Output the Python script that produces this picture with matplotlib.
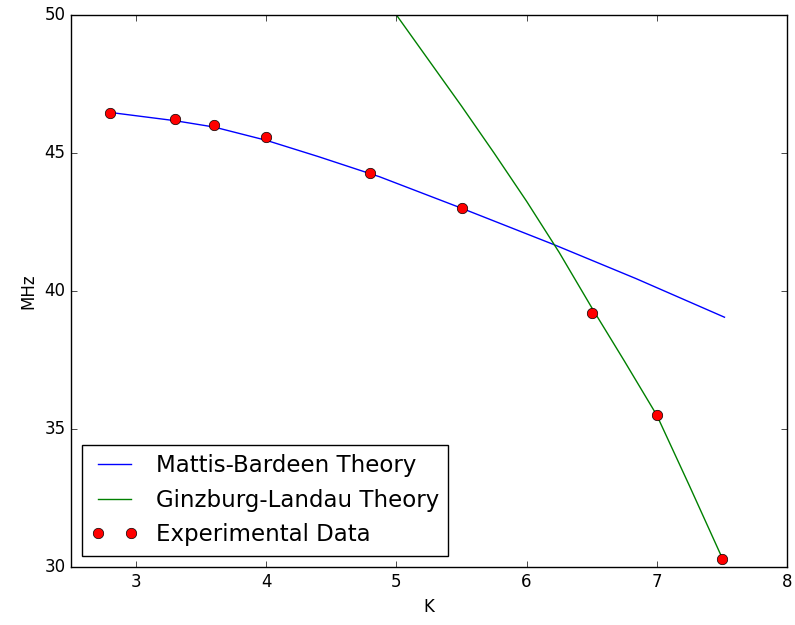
import numpy as np
import matplotlib
matplotlib.use("Agg")
import matplotlib.pyplot as plt

plt.style.use('classic')

# experimental data
temp_exp = [2.8, 3.3, 3.6, 4.0, 4.8, 5.5, 6.5, 7.0, 7.5]
freq_exp = [46.45, 46.22, 46.01, 45.57, 44.26, 43.02, 39.21, 35.52, 30.3]

# Mattis-Bardeen curve
temp_mb = [2.8, 3.3, 3.6, 4.0, 4.4, 4.87, 5.5, 6.21, 6.84, 7.52]
freq_mb = [46.47, 46.17, 45.94, 45.46, 44.87, 44.14, 43.0, 41.68, 40.45, 39.05]

# Ginzburg-Landau curve
temp_gl = [5.0, 5.25, 5.5, 5.75, 6.0, 6.25, 6.5, 6.75, 7.0, 7.25, 7.5]
freq_gl = [50.0, 48.35, 46.7, 45.0, 43.25, 41.4, 39.4, 37.47, 35.5, 32.95, 30.35]

fig = plt.figure(figsize=(7.95, 6.25), dpi=100)
fig.patch.set_facecolor('white')
ax = fig.add_axes([0.0893, 0.0928, 0.9006, 0.8832])

ax.plot(temp_mb, freq_mb, 'b-', label='Mattis-Bardeen Theory')
ax.plot(temp_gl, freq_gl, 'g-', label='Ginzburg-Landau Theory')
ax.plot(temp_exp, freq_exp, 'ro', markersize=7.5, label='Experimental Data')

ax.set_xlim(2.5, 8)
ax.set_ylim(30, 50)
ax.set_xticks([3, 4, 5, 6, 7, 8])
ax.set_yticks([30, 35, 40, 45, 50])
ax.set_xlabel('K')
ax.set_ylabel('MHz')
ax.legend(loc='lower left', numpoints=2, fontsize=16.5)

fig.savefig('out.png', dpi=100, facecolor='white')
